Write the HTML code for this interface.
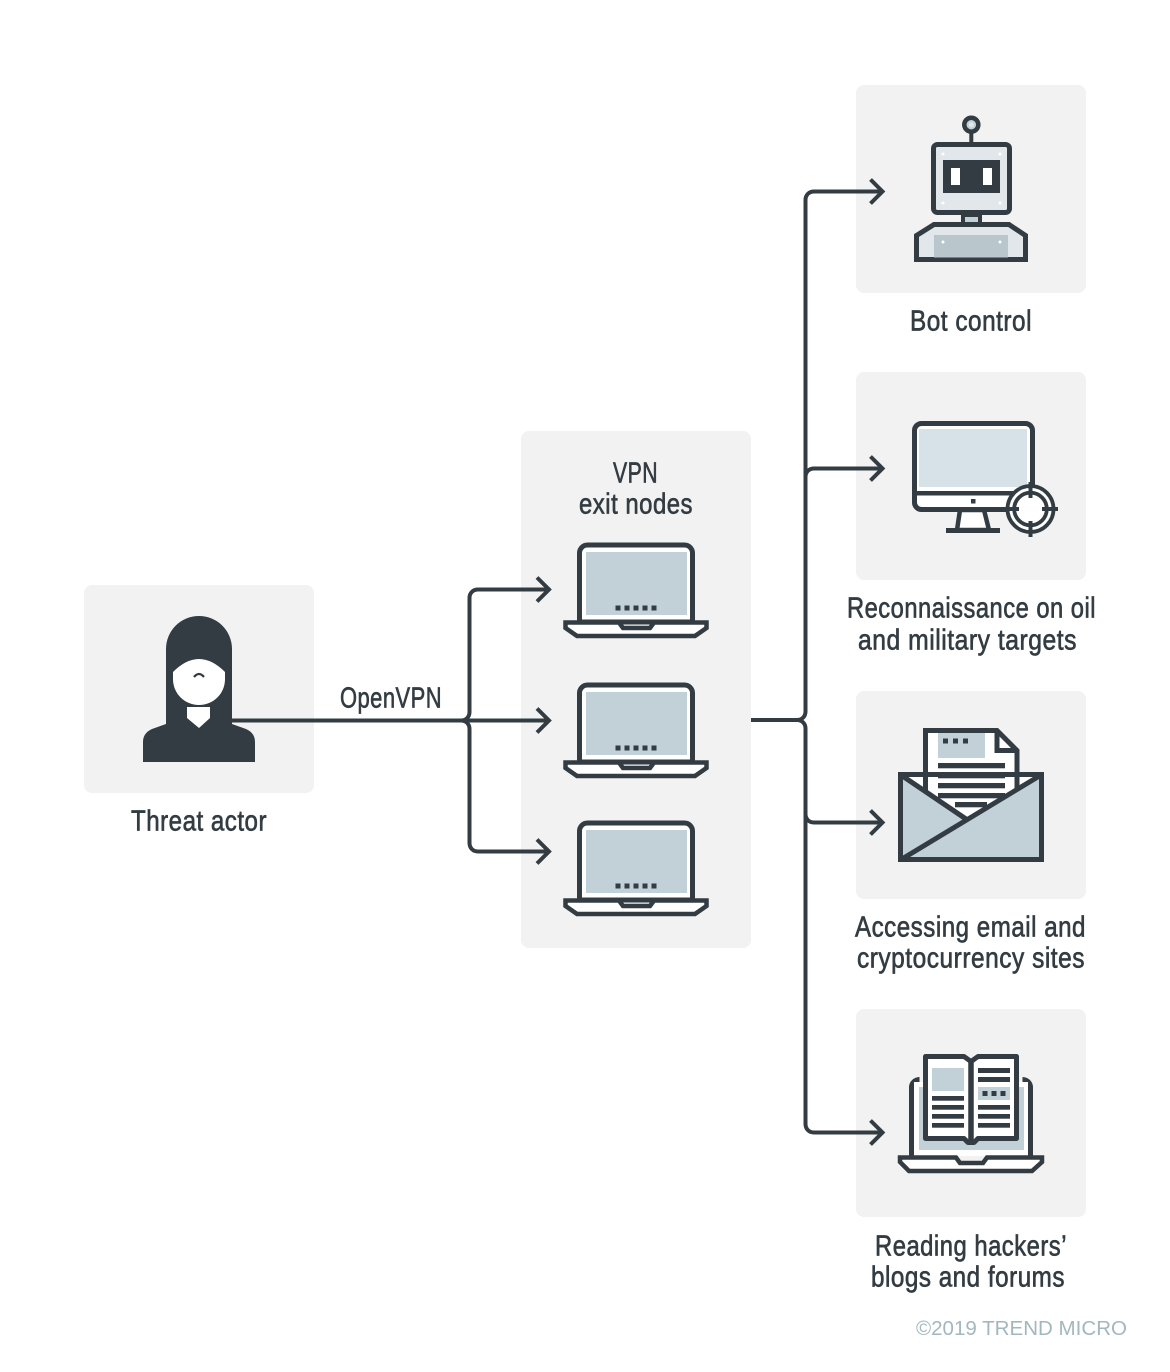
<!DOCTYPE html>
<html><head><meta charset="utf-8"><style>
html,body{margin:0;padding:0;background:#fff}
svg{display:block}
.t{font-family:"Liberation Sans Narrow","Liberation Sans",sans-serif;font-size:28.500px;letter-spacing:.6px;fill:#333c42;stroke:#333c42;stroke-width:.65px}
</style></head><body>
<svg width="1170" height="1372" viewBox="0 0 1170 1372" xmlns="http://www.w3.org/2000/svg">
<defs>
<g id="lap">
<path d="M579.500 622V553a8 8 0 0 1 8-8h97a8 8 0 0 1 8 8v69z" fill="#fff" stroke="#333c42" stroke-width="5"/>
<rect x="586" y="552" width="101" height="63" fill="#c2d0d7"/>
<g fill="#333c42"><rect x="615.500" y="605.500" width="5" height="5"/><rect x="624.500" y="605.500" width="5" height="5"/><rect x="633.500" y="605.500" width="5" height="5"/><rect x="642.500" y="605.500" width="5" height="5"/><rect x="651.500" y="605.500" width="5" height="5"/></g>
<path d="M565.500 622.500H619L623 628H650L654 622.500H706.500V628L695 636H577L565.500 628Z" fill="#fff" stroke="#333c42" stroke-width="4.500" stroke-linejoin="miter"/>
</g>
</defs>
<g fill="#f2f2f2">
<rect x="84" y="585" width="230" height="208" rx="8"/>
<rect x="521" y="431" width="230" height="517" rx="8"/>
<rect x="856" y="85" width="230" height="208" rx="8"/>
<rect x="856" y="372" width="230" height="208" rx="8"/>
<rect x="856" y="691" width="230" height="208" rx="8"/>
<rect x="856" y="1009" width="230" height="208" rx="8"/>
</g>

<!-- connectors -->
<g fill="none" stroke="#333c42" stroke-width="4">
<path d="M232 720.500H461C466 720.500 469.500 717 469.500 712V598C469.500 593 473 589.500 478 589.500H548"/>
<path d="M461 720.500H548"/>
<path d="M461 720.500C466 720.500 469.500 724 469.500 729V843C469.500 848 473 851.500 478 851.500H548"/>
<path d="M537 577.500L549 589.500L537 601.500M537 708.500L549 720.500L537 732.500M537 839.500L549 851.500L537 863.500"/>
<path d="M751 720H797C802 720 805.500 716.500 805.500 711.500V200C805.500 195 809 191.500 814 191.500H881"/>
<path d="M805.500 711.500V477C805.500 472 809 468.500 814 468.500H881"/>
<path d="M797 720C802 720 805.500 723.500 805.500 728.500V1124C805.500 1129 809 1132.500 814 1132.500H881"/>
<path d="M805.500 814C805.500 819 809 822.500 814 822.500H881"/>
<path d="M870.500 179.500L882.500 191.500L870.500 203.500M870.500 456.500L882.500 468.500L870.500 480.500M870.500 810.500L882.500 822.500L870.500 834.500M870.500 1120.500L882.500 1132.500L870.500 1144.500"/>
</g>

<!-- person -->
<path d="M166 724V649a33 33 0 0 1 66 0V724L246 729Q255 733 255 742V762H143V742Q143 733 152 729Z" fill="#333c42"/>
<path d="M173 672Q186 659 199 659Q212 659 225 672V679C225 694 213 705 199 705C185 705 173 694 173 679Z" fill="#fff"/>
<path d="M187 707H210V718L199 728L187 718Z" fill="#fff"/>
<path d="M194 677Q199 671 204 677" fill="none" stroke="#333c42" stroke-width="2.200"/>

<!-- laptops -->
<use href="#lap"/>
<use href="#lap" y="140"/>
<use href="#lap" y="278"/>

<!-- robot -->
<g stroke="#333c42" stroke-width="5">
<circle cx="971.300" cy="124.700" r="7" fill="#c2d0d7" stroke-width="4.500"/>
<path d="M971.300 132V143" fill="none" stroke-width="4"/>
<rect x="933.500" y="144.500" width="76" height="68" rx="4" fill="#e2e7eb"/>
<rect x="963" y="215" width="17" height="10" fill="#c2d0d7" stroke-width="4"/>
<path d="M916.500 259.500V235.500L934 224.500H1009L1025.500 235.500V259.500Z" fill="#e2e7eb"/>
</g>
<rect x="934" y="235" width="74" height="22.500" fill="#b9c6cb"/>
<rect x="943" y="160" width="57" height="33" fill="#333c42"/>
<rect x="951" y="168" width="9" height="17" fill="#fff"/><rect x="983" y="168" width="9" height="17" fill="#fff"/>
<circle cx="971.300" cy="124.700" r="2.500" fill="#e2e7eb"/>
<g fill="#fff"><circle cx="943" cy="154" r="1.500"/><circle cx="1000" cy="154" r="1.500"/><circle cx="943" cy="203" r="1.500"/><circle cx="1000" cy="203" r="1.500"/><circle cx="943" cy="242" r="1.500"/><circle cx="1000" cy="242" r="1.500"/></g>

<!-- monitor -->
<path d="M960 510L957 530H989L984 510Z" fill="#fff" stroke="#333c42" stroke-width="4.500"/>
<rect x="946" y="528" width="54" height="5" fill="#333c42"/>
<rect x="914.500" y="423.500" width="118" height="86" rx="7" fill="#fff" stroke="#333c42" stroke-width="5"/>
<rect x="919" y="429" width="108" height="58" fill="#d6e2e7"/>
<rect x="914" y="491" width="119" height="4.500" fill="#333c42"/>
<rect x="971" y="499" width="4.500" height="4.500" fill="#333c42"/>
<circle cx="1030.500" cy="509" r="23" fill="#fff" stroke="#333c42" stroke-width="3.800"/>
<circle cx="1030.500" cy="509" r="16.300" fill="#fff" stroke="#333c42" stroke-width="3.800"/>
<path d="M1030.500 482V498M1030.500 521V537M1005 509H1019M1042 509H1058" stroke="#333c42" stroke-width="4" fill="none"/>

<!-- envelope -->
<rect x="900.500" y="774.500" width="141" height="85" fill="#fff"/>
<path d="M925.500 825V730.500H997L1017 750.500V825Z" fill="#fff" stroke="#333c42" stroke-width="5"/>
<rect x="938" y="733" width="47" height="25" fill="#c2d0d7"/>
<path d="M997 732V750.500H1017" fill="none" stroke="#333c42" stroke-width="5"/>
<g fill="#333c42">
<rect x="943" y="738.500" width="5" height="5"/><rect x="953" y="738.500" width="5" height="5"/><rect x="963" y="738.500" width="5" height="5"/>
<rect x="938" y="763" width="67" height="5.300"/><rect x="938" y="773" width="67" height="5.300"/><rect x="938" y="783" width="67" height="5.300"/><rect x="938" y="793" width="67" height="5.300"/><rect x="955" y="802" width="32" height="5.300"/>
</g>
<path d="M901 777L966 820L903 859H901Z" fill="#c2d0d7"/>
<path d="M1041 777L903 859.500H1041Z" fill="#c2d0d7"/>
<path d="M900.500 859.500V774.500H1041.500V859.500Z" fill="none" stroke="#333c42" stroke-width="5"/>
<path d="M901 775L966 819M1041 775L902 859" fill="none" stroke="#333c42" stroke-width="5"/>

<!-- book laptop -->
<path d="M911.500 1157V1088a8 8 0 0 1 8-8.500M1022.500 1079.500a8 8 0 0 1 8 8.500V1157" fill="none" stroke="#333c42" stroke-width="5"/>
<rect x="914" y="1082" width="114" height="74" fill="#fff"/>
<rect x="919" y="1087" width="105" height="63" fill="#c2d0d7"/>
<path d="M900 1157.500H956L960 1163H983L987 1157.500H1042V1162L1032 1171H909L900 1162Z" fill="#fff" stroke="#333c42" stroke-width="4.500"/>
<path d="M925.500 1138.500V1056.500H964L971 1061.500L978 1056.500H1016.500V1138.500H978L974 1142.500H968L964 1138.500Z" fill="#fff" stroke="#333c42" stroke-width="5" stroke-linejoin="round"/>
<path d="M971 1061V1143" stroke="#333c42" stroke-width="5.500" fill="none"/>
<rect x="932" y="1068" width="32" height="23" fill="#c2d0d7"/>
<rect x="978" y="1087" width="32" height="13" fill="#c2d0d7"/>
<g fill="#333c42">
<rect x="932" y="1096" width="32" height="4.700"/><rect x="932" y="1105" width="32" height="4.700"/><rect x="932" y="1114" width="32" height="4.700"/><rect x="932" y="1123" width="32" height="4.700"/>
<rect x="978" y="1068" width="32" height="5"/><rect x="978" y="1077" width="32" height="5"/>
<rect x="982.500" y="1091" width="5" height="5"/><rect x="991.500" y="1091" width="5" height="5"/><rect x="1000.500" y="1091" width="5" height="5"/>
<rect x="978" y="1105" width="32" height="4.700"/><rect x="978" y="1114" width="32" height="4.700"/><rect x="978" y="1123" width="32" height="4.700"/>
</g>

<!-- labels -->
<text class="t" x="910" y="330.500" textLength="122" lengthAdjust="spacingAndGlyphs">Bot control</text>
<text class="t" x="131" y="830.500" textLength="136" lengthAdjust="spacingAndGlyphs">Threat actor</text>
<text class="t" x="340" y="707.500" textLength="102" lengthAdjust="spacingAndGlyphs">OpenVPN</text>
<text class="t" x="613" y="482.500" textLength="45" lengthAdjust="spacingAndGlyphs">VPN</text>
<text class="t" x="579" y="513.500" textLength="114" lengthAdjust="spacingAndGlyphs">exit nodes</text>
<text class="t" x="847" y="617.500" textLength="249" lengthAdjust="spacingAndGlyphs">Reconnaissance on oil</text>
<text class="t" x="858" y="649.500" textLength="219" lengthAdjust="spacingAndGlyphs">and military targets</text>
<text class="t" x="855" y="936.500" textLength="231" lengthAdjust="spacingAndGlyphs">Accessing email and</text>
<text class="t" x="857" y="967.500" textLength="228" lengthAdjust="spacingAndGlyphs">cryptocurrency sites</text>
<text class="t" x="875" y="1255.500" textLength="192" lengthAdjust="spacingAndGlyphs">Reading hackers’</text>
<text class="t" x="871" y="1286.500" textLength="194" lengthAdjust="spacingAndGlyphs">blogs and forums</text>
<text x="916" y="1335" textLength="211" lengthAdjust="spacingAndGlyphs" style="font-family:'Liberation Sans',sans-serif;font-size:20px;fill:#a3b7be">©2019 TREND MICRO</text>
</svg>
</body></html>
